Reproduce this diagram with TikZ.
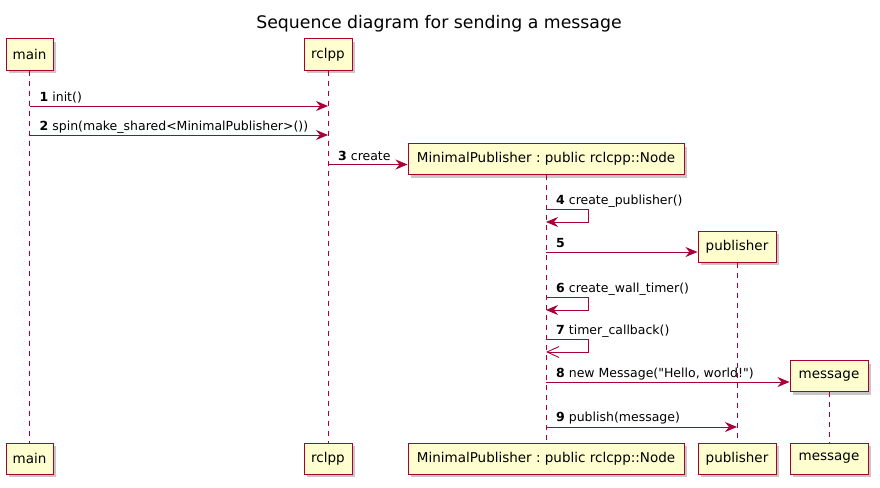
\documentclass[tikz,border=0pt]{standalone}
\usepackage{fontspec}
\setmainfont{DejaVu Sans}[Ligatures=TeXOff]
\usetikzlibrary{arrows.meta,shadows}
\definecolor{umlred}{HTML}{A80036}
\definecolor{umlfill}{HTML}{FEFECE}
\frenchspacing
\begin{document}
\begin{tikzpicture}[x=1pt,y=-1pt,
 part/.style={draw=umlred, fill=umlfill, line width=1pt, inner sep=0pt,
   minimum height=31pt, font=\fontsize{13.5}{15}\selectfont, text=black,
   drop shadow={shadow xshift=3pt, shadow yshift=-3pt, fill=black, opacity=0.22}},
 life/.style={draw=umlred, dash pattern=on 5pt off 5pt, line width=0.8pt},
 msg/.style={draw=umlred, line width=0.9pt, -{Stealth[length=12pt,width=10pt,inset=4pt]}},
 amsg/.style={draw=umlred, line width=0.9pt, -{Straight Barb[length=12pt,width=11pt,line width=0.9pt]}},
 lbl/.style={font=\fontsize{12.5}{14}\selectfont, anchor=base west, inner sep=0pt}]
\useasboundingbox (0,0) rectangle (880,487);
\node[font=\fontsize{17.3}{20}\selectfont, anchor=base] (title) at (439,29) {Sequence diagram for sending a message};
% participants top
\node[part, minimum width=47pt] (mainT) at (29.5,54.5) {main};
\node[part, minimum width=48pt] (rclT) at (328,54.5) {rclpp};
\node[part, minimum width=276pt] (mpT) at (546,159) {MinimalPublisher : public rclcpp::Node};
\node[part, minimum width=78pt] (pubT) at (737,246.5) {publisher};
\node[part, minimum width=78pt] (msgT) at (829,376) {message};
% participants bottom
\node[part, minimum width=47pt] (mainB) at (29.5,458.5) {main};
\node[part, minimum width=48pt] (rclB) at (328,458.5) {rclpp};
\node[part, minimum width=276pt] (mpB) at (546,458.5) {MinimalPublisher : public rclcpp::Node};
\node[part, minimum width=78pt] (pubB) at (737,458.5) {publisher};
\node[part, minimum width=78pt] (msgB) at (829,458.5) {message};
% lifelines
\draw[life] (mainT.south) -- (mainB.north);
\draw[life] (rclT.south) -- (rclB.north);
\draw[life] (mpT.south) -- (mpB.north);
\draw[life] (pubT.south) -- (pubB.north);
\draw[life] (msgT.south) -- (msgB.north);
% messages
\draw[msg] (mainT |- 0,106) -- (rclT |- 0,106);
\node[lbl] (l1) at (39.5,101) {\textbf{1} init()};
\draw[msg] (mainT |- 0,135) -- (rclT |- 0,135);
\node[lbl] (l2) at (39.5,130) {\textbf{2} spin(make\_shared<MinimalPublisher>())};
\draw[msg] (rclT |- 0,164.5) -- (mpT.west |- 0,164.5);
\node[lbl] (l3) at (338,160) {\textbf{3} create};
\draw[msg] (mpT |- 0,209) -- ++(42,0) -- ++(0,13) -- (mpT |- 0,222);
\node[lbl] (l4) at (556,204) {\textbf{4} create\_publisher()};
\draw[msg] (mpT |- 0,252) -- (pubT.west |- 0,252);
\node[lbl] (l5) at (556,247) {\textbf{5}};
\draw[msg] (mpT |- 0,297) -- ++(42,0) -- ++(0,13) -- (mpT |- 0,310);
\node[lbl] (l6) at (556,292) {\textbf{6} create\_wall\_timer()};
\draw[amsg] (mpT |- 0,339) -- ++(42,0) -- ++(0,13) -- (mpT |- 0,352);
\node[lbl] (l7) at (556,334) {\textbf{7} timer\_callback()};
\draw[msg] (mpT |- 0,382) -- (msgT.west |- 0,382);
\node[lbl] (l8) at (556,377) {\textbf{8} new Message("Hello, world!")};
\draw[msg] (mpT |- 0,427) -- (pubT |- 0,427);
\node[lbl] (l9) at (556,421) {\textbf{9} publish(message)};
\end{tikzpicture}
\end{document}
